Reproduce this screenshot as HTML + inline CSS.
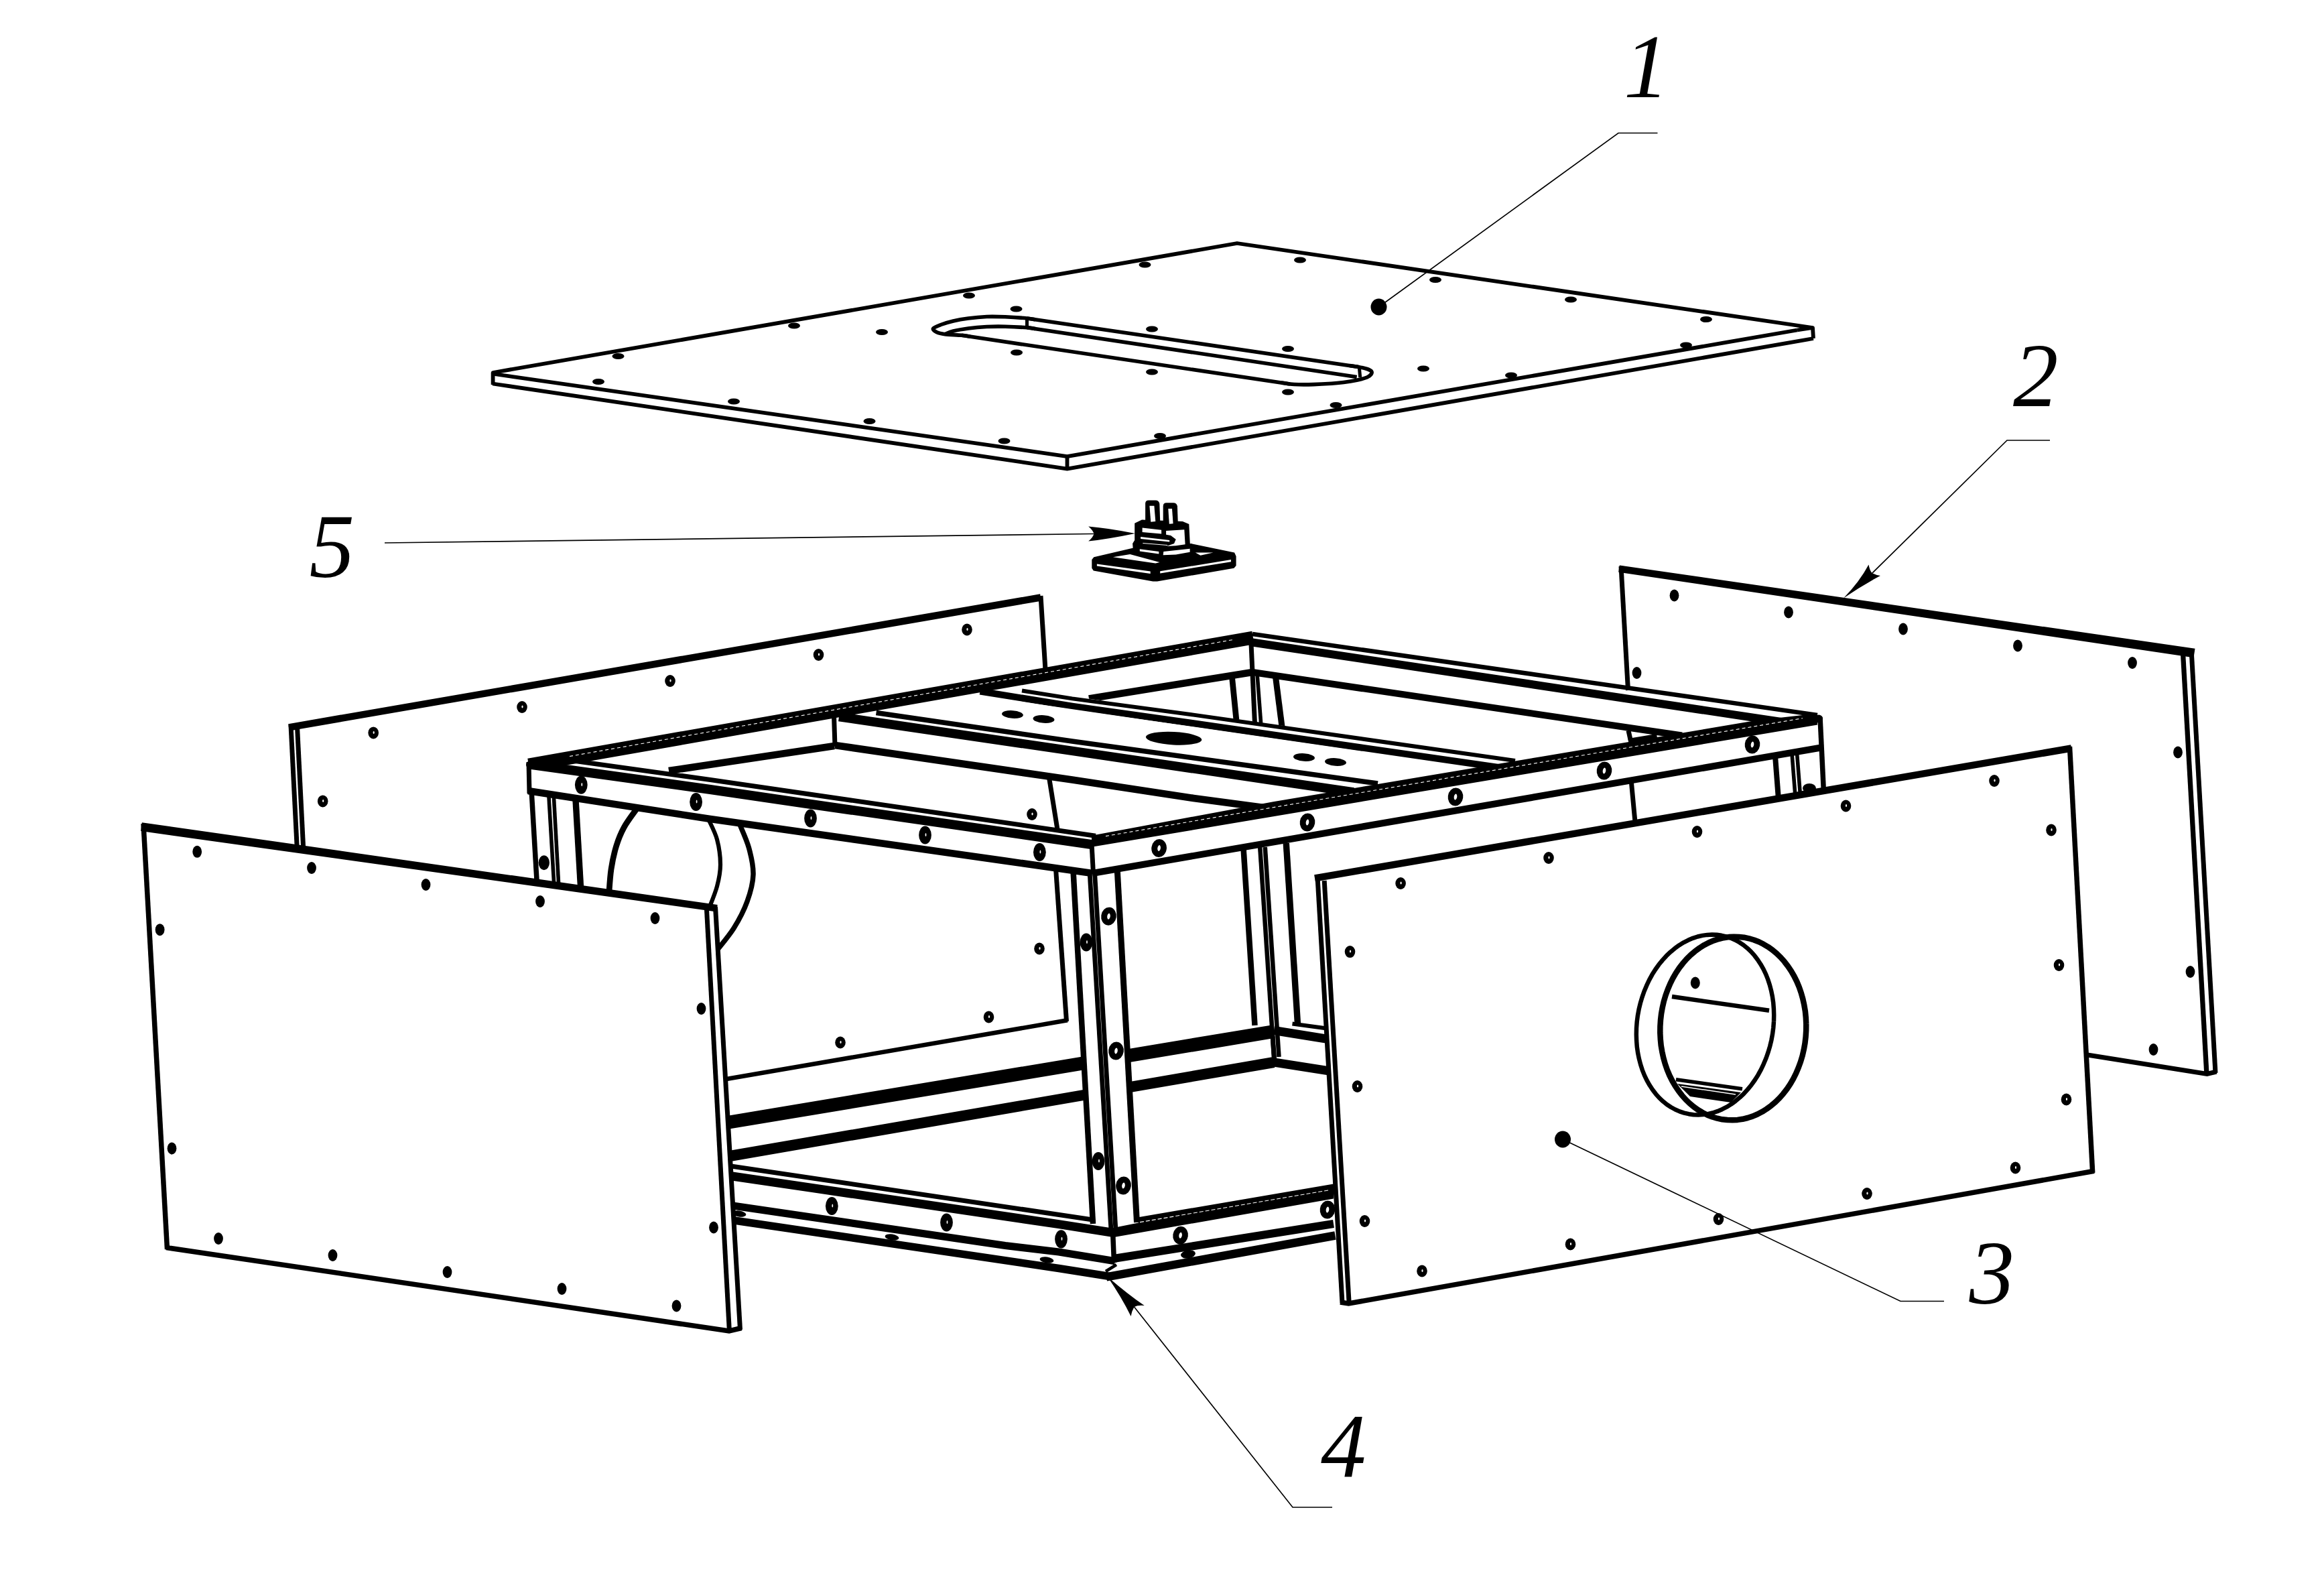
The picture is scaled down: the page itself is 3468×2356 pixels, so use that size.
<!DOCTYPE html>
<html><head><meta charset="utf-8"><title>Exploded view</title>
<style>html,body{margin:0;padding:0;background:#fff}body{width:3468px;height:2356px;overflow:hidden}svg{display:block}text{font-family:"Liberation Serif",serif;font-style:italic;fill:#000}</style>
</head><body>
<svg width="3468" height="2356" viewBox="0 0 3468 2356">
<polygon points="432.0,1085.0 1552.0,892.0 1591.0,1522.5 1084.0,1610.0 455.0,1300.0" fill="#fff" stroke="none" stroke-width="0" stroke-linejoin="miter"/>
<polyline points="431.0,1085.3 1553.0,891.5" fill="none" stroke="#000" stroke-width="10.5" stroke-linecap="butt" stroke-linejoin="miter"/>
<polyline points="434.0,1082.0 444.5,1290.0" fill="none" stroke="#000" stroke-width="7" stroke-linecap="butt" stroke-linejoin="miter"/>
<polyline points="443.5,1084.0 454.0,1292.0" fill="none" stroke="#000" stroke-width="7" stroke-linecap="butt" stroke-linejoin="miter"/>
<polyline points="1553.0,889.0 1560.0,1000.0" fill="none" stroke="#000" stroke-width="7" stroke-linecap="butt" stroke-linejoin="miter"/>
<ellipse cx="557.2" cy="1093.4" rx="7.8" ry="9" fill="#000" stroke="none" stroke-width="0"/>
<ellipse cx="557.7" cy="1092.9" rx="1.1" ry="2.0" fill="#fff" stroke="none" stroke-width="0"/>
<ellipse cx="779" cy="1055" rx="7.8" ry="9" fill="#000" stroke="none" stroke-width="0"/>
<ellipse cx="779.5" cy="1054.5" rx="1.1" ry="2.0" fill="#fff" stroke="none" stroke-width="0"/>
<ellipse cx="1000" cy="1016" rx="7.8" ry="9" fill="#000" stroke="none" stroke-width="0"/>
<ellipse cx="1000.5" cy="1015.5" rx="1.1" ry="2.0" fill="#fff" stroke="none" stroke-width="0"/>
<ellipse cx="1221.5" cy="977" rx="7.8" ry="9" fill="#000" stroke="none" stroke-width="0"/>
<ellipse cx="1222.0" cy="976.5" rx="1.1" ry="2.0" fill="#fff" stroke="none" stroke-width="0"/>
<ellipse cx="1443" cy="939.5" rx="7.8" ry="9" fill="#000" stroke="none" stroke-width="0"/>
<ellipse cx="1443.5" cy="939.0" rx="1.1" ry="2.0" fill="#fff" stroke="none" stroke-width="0"/>
<ellipse cx="481.7" cy="1195.4" rx="7.8" ry="9" fill="#000" stroke="none" stroke-width="0"/>
<ellipse cx="482.2" cy="1194.9" rx="1.1" ry="2.0" fill="#fff" stroke="none" stroke-width="0"/>
<polygon points="2418.5,849.0 3271.0,972.5 3306.0,1600.0 3292.0,1603.0 2441.0,1470.0" fill="#fff" stroke="none" stroke-width="0" stroke-linejoin="miter"/>
<polygon points="2415.2,853.8 3273.5,981.2 3275.5,967.8 2416.8,843.4" fill="#000" stroke="none" stroke-width="0" stroke-linejoin="miter"/>
<polyline points="2419.0,845.0 2429.5,1030.0" fill="none" stroke="#000" stroke-width="7" stroke-linecap="butt" stroke-linejoin="miter"/>
<polyline points="3257.6,976.0 3293.0,1604.0" fill="none" stroke="#000" stroke-width="7.3" stroke-linecap="butt" stroke-linejoin="miter"/>
<polyline points="3270.3,974.0 3306.0,1601.0" fill="none" stroke="#000" stroke-width="7" stroke-linecap="butt" stroke-linejoin="miter"/>
<polyline points="3115.0,1574.0 3293.5,1602.5 3307.5,1599.0" fill="none" stroke="#000" stroke-width="7" stroke-linecap="butt" stroke-linejoin="miter"/>
<ellipse cx="2498.5" cy="888.5" rx="6.9" ry="9" fill="#000" stroke="none" stroke-width="0"/>
<ellipse cx="2669" cy="913.5" rx="6.9" ry="9" fill="#000" stroke="none" stroke-width="0"/>
<ellipse cx="2840" cy="938.5" rx="6.9" ry="9" fill="#000" stroke="none" stroke-width="0"/>
<ellipse cx="3011" cy="963.5" rx="6.9" ry="9" fill="#000" stroke="none" stroke-width="0"/>
<ellipse cx="3182" cy="989" rx="6.9" ry="9" fill="#000" stroke="none" stroke-width="0"/>
<ellipse cx="2442.5" cy="1004" rx="6.9" ry="9" fill="#000" stroke="none" stroke-width="0"/>
<ellipse cx="3250" cy="1122.5" rx="6.9" ry="9" fill="#000" stroke="none" stroke-width="0"/>
<ellipse cx="3268.5" cy="1450" rx="6.9" ry="9" fill="#000" stroke="none" stroke-width="0"/>
<ellipse cx="3213.5" cy="1566" rx="6.9" ry="9" fill="#000" stroke="none" stroke-width="0"/>
<polyline points="2430.0,1090.0 2433.5,1106.0" fill="none" stroke="#000" stroke-width="7" stroke-linecap="butt" stroke-linejoin="miter"/>
<polyline points="2434.0,1163.0 2440.5,1232.0" fill="none" stroke="#000" stroke-width="7" stroke-linecap="butt" stroke-linejoin="miter"/>
<polyline points="1575.5,1296.0 1591.5,1524.0" fill="none" stroke="#000" stroke-width="7" stroke-linecap="butt" stroke-linejoin="miter"/>
<polyline points="1593.0,1522.3 1084.0,1610.0" fill="none" stroke="#000" stroke-width="6.5" stroke-linecap="butt" stroke-linejoin="miter"/>
<polyline points="1565.5,1160.0 1578.0,1238.0" fill="none" stroke="#000" stroke-width="7" stroke-linecap="butt" stroke-linejoin="miter"/>
<ellipse cx="1540" cy="1215" rx="7.8" ry="9" fill="#000" stroke="none" stroke-width="0"/>
<ellipse cx="1540.5" cy="1214.5" rx="1.1" ry="2.0" fill="#fff" stroke="none" stroke-width="0"/>
<ellipse cx="1551" cy="1415.5" rx="7.8" ry="9" fill="#000" stroke="none" stroke-width="0"/>
<ellipse cx="1551.5" cy="1415.0" rx="1.1" ry="2.0" fill="#fff" stroke="none" stroke-width="0"/>
<ellipse cx="1475.5" cy="1517.5" rx="7.8" ry="9" fill="#000" stroke="none" stroke-width="0"/>
<ellipse cx="1476.0" cy="1517.0" rx="1.1" ry="2.0" fill="#fff" stroke="none" stroke-width="0"/>
<ellipse cx="1254" cy="1555.5" rx="7.8" ry="9" fill="#000" stroke="none" stroke-width="0"/>
<ellipse cx="1254.5" cy="1555.0" rx="1.1" ry="2.0" fill="#fff" stroke="none" stroke-width="0"/>
<polyline points="1085.0,1675.0 1901.0,1539.0" fill="none" stroke="#000" stroke-width="20" stroke-linecap="butt" stroke-linejoin="miter"/>
<polyline points="1089.0,1725.0 1901.0,1585.0" fill="none" stroke="#000" stroke-width="16" stroke-linecap="butt" stroke-linejoin="miter"/>
<polyline points="1928.5,1527.5 1980.0,1534.5" fill="none" stroke="#000" stroke-width="6" stroke-linecap="butt" stroke-linejoin="miter"/>
<polyline points="1901.0,1537.5 1982.0,1550.5" fill="none" stroke="#000" stroke-width="13" stroke-linecap="butt" stroke-linejoin="miter"/>
<polyline points="1901.0,1585.0 1984.0,1598.0" fill="none" stroke="#000" stroke-width="13" stroke-linecap="butt" stroke-linejoin="miter"/>
<polyline points="1899.0,1545.0 1902.0,1586.0" fill="none" stroke="#000" stroke-width="7" stroke-linecap="butt" stroke-linejoin="miter"/>
<polyline points="1855.7,1268.0 1872.5,1530.0" fill="none" stroke="#000" stroke-width="8.5" stroke-linecap="butt" stroke-linejoin="miter"/>
<polyline points="1880.2,1264.0 1901.0,1577.0" fill="none" stroke="#000" stroke-width="6.5" stroke-linecap="butt" stroke-linejoin="miter"/>
<polyline points="1887.8,1264.0 1908.5,1577.0" fill="none" stroke="#000" stroke-width="6.5" stroke-linecap="butt" stroke-linejoin="miter"/>
<polyline points="1919.3,1258.0 1936.5,1528.0" fill="none" stroke="#000" stroke-width="9.4" stroke-linecap="butt" stroke-linejoin="miter"/>
<polyline points="998.0,1150.0 1245.0,1113.0" fill="none" stroke="#000" stroke-width="10.6" stroke-linecap="butt" stroke-linejoin="miter"/>
<polyline points="1625.0,1042.4 1869.0,1003.0" fill="none" stroke="#000" stroke-width="10.6" stroke-linecap="butt" stroke-linejoin="miter"/>
<polyline points="1869.0,946.0 2712.0,1067.0" fill="none" stroke="#000" stroke-width="6.5" stroke-linecap="butt" stroke-linejoin="miter"/>
<polyline points="1869.0,958.5 2668.0,1078.5" fill="none" stroke="#000" stroke-width="12" stroke-linecap="butt" stroke-linejoin="miter"/>
<polyline points="1869.0,1003.0 2510.0,1097.5" fill="none" stroke="#000" stroke-width="10" stroke-linecap="butt" stroke-linejoin="miter"/>
<polyline points="1867.0,960.0 1872.5,1080.0" fill="none" stroke="#000" stroke-width="7" stroke-linecap="butt" stroke-linejoin="miter"/>
<polyline points="1838.5,1010.0 1845.5,1080.0" fill="none" stroke="#000" stroke-width="8.7" stroke-linecap="butt" stroke-linejoin="miter"/>
<polyline points="1876.0,1005.0 1882.0,1084.0" fill="none" stroke="#000" stroke-width="5.6" stroke-linecap="butt" stroke-linejoin="miter"/>
<polyline points="1903.5,1010.0 1913.5,1088.0" fill="none" stroke="#000" stroke-width="9" stroke-linecap="butt" stroke-linejoin="miter"/>
<polygon points="1462.0,1020.0 2261.0,1131.0 2243.0,1152.0 1462.0,1038.0" fill="#fff" stroke="none" stroke-width="0" stroke-linejoin="miter"/>
<polyline points="1525.0,1030.5 1600.0,1042.4 1781.0,1066.6 2261.0,1135.0" fill="none" stroke="#000" stroke-width="6" stroke-linecap="butt" stroke-linejoin="miter"/>
<polyline points="1462.5,1031.5 1600.0,1053.7 1781.0,1079.3 2243.0,1146.0" fill="none" stroke="#000" stroke-width="10" stroke-linecap="butt" stroke-linejoin="miter"/>
<polygon points="1462.0,1038.0 2243.0,1152.0 2058.0,1172.0 1300.0,1060.0" fill="#fff" stroke="none" stroke-width="0" stroke-linejoin="miter"/>
<ellipse cx="1511" cy="1066" rx="16" ry="5.8" fill="#000" stroke="none" stroke-width="0" transform="rotate(4 1511 1066)"/>
<ellipse cx="1557.5" cy="1073" rx="16" ry="5.8" fill="#000" stroke="none" stroke-width="0" transform="rotate(4 1557.5 1073)"/>
<ellipse cx="1946" cy="1130" rx="16" ry="5.8" fill="#000" stroke="none" stroke-width="0" transform="rotate(4 1946 1130)"/>
<ellipse cx="1993" cy="1137" rx="16" ry="5.8" fill="#000" stroke="none" stroke-width="0" transform="rotate(4 1993 1137)"/>
<ellipse cx="1751.6" cy="1101.7" rx="41.8" ry="9.7" fill="#000" stroke="none" stroke-width="0" transform="rotate(3 1751.6 1101.7)"/>
<polygon points="1246.0,1062.0 2058.0,1166.0 1881.0,1203.0 1246.0,1112.0" fill="#fff" stroke="none" stroke-width="0" stroke-linejoin="miter"/>
<polyline points="1307.5,1063.5 1600.0,1106.0 1890.0,1146.0 2056.0,1169.0" fill="none" stroke="#000" stroke-width="7.5" stroke-linecap="butt" stroke-linejoin="miter"/>
<polyline points="1252.0,1069.5 1600.0,1120.4 1890.0,1163.0 2020.0,1182.0" fill="none" stroke="#000" stroke-width="13.5" stroke-linecap="butt" stroke-linejoin="miter"/>
<polyline points="1246.0,1112.0 1600.0,1163.5 1781.0,1191.0 1886.0,1205.0" fill="none" stroke="#000" stroke-width="10.8" stroke-linecap="butt" stroke-linejoin="miter"/>
<polyline points="1244.5,1068.0 1246.0,1114.0" fill="none" stroke="#000" stroke-width="7" stroke-linecap="butt" stroke-linejoin="miter"/>
<polyline points="789.0,1141.5 1870.0,951.5" fill="none" stroke="#000" stroke-width="20" stroke-linecap="butt" stroke-linejoin="miter"/>
<polyline points="850,1128.5 1840,954.5" fill="none" stroke="#fff" stroke-width="1.1" stroke-dasharray="5 4"/>
<polyline points="2430.0,1105.0 2472.5,1098.0" fill="none" stroke="#000" stroke-width="6" stroke-linecap="butt" stroke-linejoin="miter"/>
<polyline points="793.0,1178.0 801.5,1322.0" fill="none" stroke="#000" stroke-width="7.5" stroke-linecap="butt" stroke-linejoin="miter"/>
<polyline points="818.7,1184.0 827.0,1324.0" fill="none" stroke="#000" stroke-width="5.6" stroke-linecap="butt" stroke-linejoin="miter"/>
<polyline points="826.2,1185.0 834.0,1326.0" fill="none" stroke="#000" stroke-width="5.6" stroke-linecap="butt" stroke-linejoin="miter"/>
<polyline points="858.8,1190.0 867.0,1332.0" fill="none" stroke="#000" stroke-width="9.4" stroke-linecap="butt" stroke-linejoin="miter"/>
<ellipse cx="811.8" cy="1287.2" rx="8.2" ry="11" fill="#000" stroke="none" stroke-width="0"/>
<path d="M950.0,1207.0 C946.8,1211.6 936.0,1225.6 931.0,1234.8 C926.0,1244.0 922.9,1251.8 919.7,1262.2 C916.5,1272.6 913.9,1284.5 912.0,1297.0 C910.1,1309.5 909.1,1330.3 908.5,1337.0" fill="none" stroke="#000" stroke-width="8.7" stroke-linecap="butt" stroke-linejoin="round"/>
<path d="M1057.0,1222.0 C1059.2,1227.1 1067.0,1241.2 1070.0,1252.5 C1073.0,1263.8 1075.0,1278.3 1075.0,1290.0 C1075.0,1301.7 1073.0,1311.2 1070.0,1322.5 C1067.0,1333.8 1059.2,1352.1 1057.0,1358.0" fill="none" stroke="#000" stroke-width="6.2" stroke-linecap="butt" stroke-linejoin="round"/>
<path d="M1103.0,1228.0 C1105.4,1234.2 1114.0,1252.2 1117.5,1265.0 C1121.0,1277.8 1124.4,1291.7 1124.0,1305.0 C1123.6,1318.3 1119.8,1331.7 1115.0,1345.0 C1110.2,1358.3 1102.7,1372.7 1095.0,1385.0 C1087.3,1397.3 1073.3,1413.3 1069.0,1419.0" fill="none" stroke="#000" stroke-width="7.5" stroke-linecap="butt" stroke-linejoin="round"/>
<polygon points="1600.5,1290.0 1667.0,1285.0 1699.0,1822.0 1662.0,1882.0 1633.5,1832.0" fill="#fff" stroke="none" stroke-width="0" stroke-linejoin="miter"/>
<polyline points="1601.0,1290.0 1631.0,1826.0" fill="none" stroke="#000" stroke-width="8.5" stroke-linecap="butt" stroke-linejoin="miter"/>
<polyline points="1625.5,1292.0 1658.0,1836.0" fill="none" stroke="#000" stroke-width="6.8" stroke-linecap="butt" stroke-linejoin="miter"/>
<polyline points="1633.0,1292.0 1665.0,1836.0" fill="none" stroke="#000" stroke-width="6.8" stroke-linecap="butt" stroke-linejoin="miter"/>
<polyline points="1666.7,1288.0 1696.5,1824.0" fill="none" stroke="#000" stroke-width="9" stroke-linecap="butt" stroke-linejoin="miter"/>
<ellipse cx="1654.5" cy="1367.2" rx="6.8" ry="9.0" fill="#fff" stroke="#000" stroke-width="9" transform="rotate(8 1654.5 1367.2)"/>
<ellipse cx="1665.5" cy="1568" rx="6.8" ry="9.0" fill="#fff" stroke="#000" stroke-width="9" transform="rotate(8 1665.5 1568)"/>
<ellipse cx="1676.5" cy="1769" rx="6.8" ry="9.0" fill="#fff" stroke="#000" stroke-width="9" transform="rotate(8 1676.5 1769)"/>
<ellipse cx="1621" cy="1406" rx="9.4" ry="13.6" fill="#000" stroke="none" stroke-width="0"/>
<ellipse cx="1622" cy="1405.5" rx="0.9" ry="2.6" fill="#fff" stroke="none" stroke-width="0"/>
<ellipse cx="1639" cy="1732.5" rx="9.4" ry="13.6" fill="#000" stroke="none" stroke-width="0"/>
<ellipse cx="1640" cy="1732.0" rx="0.9" ry="2.6" fill="#fff" stroke="none" stroke-width="0"/>
<polygon points="788.0,1140.0 1060.0,1178.0 1200.0,1198.5 1632.0,1260.5 1630.0,1303.0 1500.0,1284.5 1060.0,1222.0 788.0,1180.0" fill="#fff" stroke="none" stroke-width="0" stroke-linejoin="miter"/>
<polyline points="790.0,1140.5 1060.0,1178.0 1200.0,1198.5 1632.0,1260.5" fill="none" stroke="#000" stroke-width="14" stroke-linecap="butt" stroke-linejoin="miter"/>
<polyline points="835.0,1132.3 1060.0,1163.5 1400.0,1213.0 1635.0,1247.2" fill="none" stroke="#000" stroke-width="7" stroke-linecap="butt" stroke-linejoin="miter"/>
<polyline points="788.0,1180.0 1060.0,1222.0 1500.0,1284.5 1630.0,1303.0" fill="none" stroke="#000" stroke-width="10.5" stroke-linecap="butt" stroke-linejoin="miter"/>
<polyline points="789.0,1137.0 790.0,1184.0" fill="none" stroke="#000" stroke-width="7" stroke-linecap="butt" stroke-linejoin="round"/>
<ellipse cx="790.5" cy="1141" rx="5.5" ry="5.5" fill="#000" stroke="none" stroke-width="0"/>
<ellipse cx="867.3" cy="1171.1" rx="9.4" ry="13.6" fill="#000" stroke="none" stroke-width="0"/>
<ellipse cx="868.3" cy="1170.6" rx="0.9" ry="2.6" fill="#fff" stroke="none" stroke-width="0"/>
<ellipse cx="1038.6" cy="1196.5" rx="9.4" ry="13.6" fill="#000" stroke="none" stroke-width="0"/>
<ellipse cx="1039.6" cy="1196.0" rx="0.9" ry="2.6" fill="#fff" stroke="none" stroke-width="0"/>
<ellipse cx="1209.5" cy="1221" rx="9.4" ry="13.6" fill="#000" stroke="none" stroke-width="0"/>
<ellipse cx="1210.5" cy="1220.5" rx="0.9" ry="2.6" fill="#fff" stroke="none" stroke-width="0"/>
<ellipse cx="1380.5" cy="1246" rx="9.4" ry="13.6" fill="#000" stroke="none" stroke-width="0"/>
<ellipse cx="1381.5" cy="1245.5" rx="0.9" ry="2.6" fill="#fff" stroke="none" stroke-width="0"/>
<ellipse cx="1551.4" cy="1271.5" rx="9.4" ry="13.6" fill="#000" stroke="none" stroke-width="0"/>
<ellipse cx="1552.4" cy="1271.0" rx="0.9" ry="2.6" fill="#fff" stroke="none" stroke-width="0"/>
<polygon points="1631.0,1255.0 2712.0,1073.0 2717.5,1115.5 1630.0,1303.0" fill="#fff" stroke="none" stroke-width="0" stroke-linejoin="miter"/>
<polygon points="1629.0,1246.8 1900.0,1196.2 2300.0,1128.9 2620.0,1075.0 2712.0,1064.5 2712.0,1081.5 2620.0,1097.0 2300.0,1150.9 1900.0,1218.2 1629.0,1263.8" fill="#000" stroke="none" stroke-width="0" stroke-linejoin="miter"/>
<polyline points="1650.0,1247.6 1900.0,1204.7 2690.0,1071.7" fill="none" stroke="#fff" stroke-width="1.1" stroke-dasharray="5 4"/>
<polyline points="1630.0,1303.0 2717.5,1115.5" fill="none" stroke="#000" stroke-width="10" stroke-linecap="butt" stroke-linejoin="miter"/>
<polyline points="1629.0,1258.0 1631.5,1304.0" fill="none" stroke="#000" stroke-width="7" stroke-linecap="butt" stroke-linejoin="miter"/>
<polyline points="2716.0,1070.0 2721.5,1183.0" fill="none" stroke="#000" stroke-width="7.5" stroke-linecap="butt" stroke-linejoin="miter"/>
<ellipse cx="2714" cy="1072.5" rx="6" ry="6" fill="#000" stroke="none" stroke-width="0"/>
<ellipse cx="1729.6" cy="1265.5" rx="6.8" ry="9.0" fill="#fff" stroke="#000" stroke-width="9" transform="rotate(8 1729.6 1265.5)"/>
<ellipse cx="1951" cy="1227" rx="6.8" ry="9.0" fill="#fff" stroke="#000" stroke-width="9" transform="rotate(8 1951 1227)"/>
<ellipse cx="2172" cy="1189" rx="6.8" ry="9.0" fill="#fff" stroke="#000" stroke-width="9" transform="rotate(8 2172 1189)"/>
<ellipse cx="2394" cy="1150" rx="6.8" ry="9.0" fill="#fff" stroke="#000" stroke-width="9" transform="rotate(8 2394 1150)"/>
<ellipse cx="2615" cy="1111" rx="6.8" ry="9.0" fill="#fff" stroke="#000" stroke-width="9" transform="rotate(8 2615 1111)"/>
<polyline points="2649.0,1128.0 2654.0,1193.0" fill="none" stroke="#000" stroke-width="8" stroke-linecap="butt" stroke-linejoin="miter"/>
<polyline points="2674.0,1124.0 2679.0,1188.0" fill="none" stroke="#000" stroke-width="5.6" stroke-linecap="butt" stroke-linejoin="miter"/>
<polyline points="2681.5,1123.0 2686.5,1187.0" fill="none" stroke="#000" stroke-width="5.6" stroke-linecap="butt" stroke-linejoin="miter"/>
<ellipse cx="2700" cy="1176" rx="10" ry="7" fill="#000" stroke="none" stroke-width="0"/>
<polygon points="1091.0,1755.0 1660.5,1839.0 1662.5,1881.0 1653.0,1905.0 1095.6,1821.0" fill="#fff" stroke="none" stroke-width="0" stroke-linejoin="miter"/>
<polygon points="1660.5,1839.0 1990.0,1788.5 1992.5,1843.5 1653.0,1905.0 1662.5,1881.0" fill="#fff" stroke="none" stroke-width="0" stroke-linejoin="miter"/>
<polyline points="1091.0,1740.0 1629.0,1819.7" fill="none" stroke="#000" stroke-width="7" stroke-linecap="butt" stroke-linejoin="miter"/>
<polyline points="1091.0,1754.7 1580.0,1826.6 1662.0,1839.5" fill="none" stroke="#000" stroke-width="13" stroke-linecap="butt" stroke-linejoin="miter"/>
<polyline points="1093.7,1799.0 1500.0,1858.5 1580.0,1868.0 1664.0,1881.8" fill="none" stroke="#000" stroke-width="11" stroke-linecap="butt" stroke-linejoin="miter"/>
<polyline points="1095.6,1821.0 1580.0,1892.5 1656.0,1904.5" fill="none" stroke="#000" stroke-width="11.5" stroke-linecap="butt" stroke-linejoin="miter"/>
<ellipse cx="1241.3" cy="1799.5" rx="9.4" ry="13.6" fill="#000" stroke="none" stroke-width="0"/>
<ellipse cx="1242.3" cy="1799.0" rx="0.9" ry="2.6" fill="#fff" stroke="none" stroke-width="0"/>
<ellipse cx="1412.5" cy="1824" rx="9.4" ry="13.6" fill="#000" stroke="none" stroke-width="0"/>
<ellipse cx="1413.5" cy="1823.5" rx="0.9" ry="2.6" fill="#fff" stroke="none" stroke-width="0"/>
<ellipse cx="1583.5" cy="1848.8" rx="9.4" ry="13.6" fill="#000" stroke="none" stroke-width="0"/>
<ellipse cx="1584.5" cy="1848.3" rx="0.9" ry="2.6" fill="#fff" stroke="none" stroke-width="0"/>
<ellipse cx="1103" cy="1811" rx="10.5" ry="4.5" fill="#000" stroke="none" stroke-width="0" transform="rotate(8 1103 1811)"/>
<ellipse cx="1331" cy="1846" rx="10.5" ry="4.5" fill="#000" stroke="none" stroke-width="0" transform="rotate(8 1331 1846)"/>
<ellipse cx="1562" cy="1880" rx="10.5" ry="4.5" fill="#000" stroke="none" stroke-width="0" transform="rotate(8 1562 1880)"/>
<polygon points="1659.0,1832.5 1699.0,1824.5 1700.0,1816.0 1990.0,1766.5 1990.0,1788.5 1659.5,1846.5" fill="#000" stroke="none" stroke-width="0" stroke-linejoin="miter"/>
<polyline points="1701,1823.6 1985,1775.5" fill="none" stroke="#fff" stroke-width="1.1" stroke-dasharray="6 3"/>
<polyline points="1660.0,1878.3 1990.0,1826.0" fill="none" stroke="#000" stroke-width="12" stroke-linecap="butt" stroke-linejoin="miter"/>
<polyline points="1651.0,1905.4 1992.5,1843.5" fill="none" stroke="#000" stroke-width="12.5" stroke-linecap="butt" stroke-linejoin="miter"/>
<polyline points="1650.0,1897.0 1666.0,1887.0" fill="none" stroke="#000" stroke-width="4.5" stroke-linecap="butt" stroke-linejoin="miter"/>
<ellipse cx="1761.6" cy="1843.3" rx="6.8" ry="9.0" fill="#fff" stroke="#000" stroke-width="9" transform="rotate(8 1761.6 1843.3)"/>
<ellipse cx="1981" cy="1805" rx="6.8" ry="9.0" fill="#fff" stroke="#000" stroke-width="9" transform="rotate(8 1981 1805)"/>
<ellipse cx="1773" cy="1871.5" rx="11" ry="6" fill="#000" stroke="none" stroke-width="0" transform="rotate(-9 1773 1871.5)"/>
<polyline points="1660.5,1836.0 1662.5,1884.0" fill="none" stroke="#000" stroke-width="7.5" stroke-linecap="butt" stroke-linejoin="miter"/>
<polygon points="213.0,1232.5 1068.5,1354.0 1105.0,1982.0 1088.0,1987.0 249.0,1862.0" fill="#fff" stroke="none" stroke-width="0" stroke-linejoin="miter"/>
<polygon points="210.1,1240.0 1069.3,1360.4 1070.7,1350.0 211.9,1227.2" fill="#000" stroke="none" stroke-width="0" stroke-linejoin="miter"/>
<polyline points="214.0,1229.0 249.5,1864.0" fill="none" stroke="#000" stroke-width="7.5" stroke-linecap="butt" stroke-linejoin="miter"/>
<polyline points="248.0,1861.5 1088.0,1986.0 1106.5,1981.5" fill="none" stroke="#000" stroke-width="7.5" stroke-linecap="butt" stroke-linejoin="miter"/>
<polyline points="1054.5,1357.0 1088.5,1988.0" fill="none" stroke="#000" stroke-width="7" stroke-linecap="butt" stroke-linejoin="miter"/>
<polyline points="1067.5,1353.0 1104.5,1984.0" fill="none" stroke="#000" stroke-width="7" stroke-linecap="butt" stroke-linejoin="miter"/>
<ellipse cx="294.2" cy="1270.8" rx="6.9" ry="9" fill="#000" stroke="none" stroke-width="0"/>
<ellipse cx="465" cy="1295" rx="6.9" ry="9" fill="#000" stroke="none" stroke-width="0"/>
<ellipse cx="635.5" cy="1320" rx="6.9" ry="9" fill="#000" stroke="none" stroke-width="0"/>
<ellipse cx="806" cy="1345" rx="6.9" ry="9" fill="#000" stroke="none" stroke-width="0"/>
<ellipse cx="977.5" cy="1370" rx="6.9" ry="9" fill="#000" stroke="none" stroke-width="0"/>
<ellipse cx="238.6" cy="1387.2" rx="6.9" ry="9" fill="#000" stroke="none" stroke-width="0"/>
<ellipse cx="256.5" cy="1713.5" rx="6.9" ry="9" fill="#000" stroke="none" stroke-width="0"/>
<ellipse cx="1046.5" cy="1505" rx="6.9" ry="9" fill="#000" stroke="none" stroke-width="0"/>
<ellipse cx="1065" cy="1831.5" rx="6.9" ry="9" fill="#000" stroke="none" stroke-width="0"/>
<ellipse cx="326" cy="1848" rx="6.9" ry="9" fill="#000" stroke="none" stroke-width="0"/>
<ellipse cx="496.5" cy="1873" rx="6.9" ry="9" fill="#000" stroke="none" stroke-width="0"/>
<ellipse cx="667.5" cy="1898" rx="6.9" ry="9" fill="#000" stroke="none" stroke-width="0"/>
<ellipse cx="838.5" cy="1923" rx="6.9" ry="9" fill="#000" stroke="none" stroke-width="0"/>
<ellipse cx="1009.5" cy="1948.5" rx="6.9" ry="9" fill="#000" stroke="none" stroke-width="0"/>
<polygon points="1963.7,1310.0 3088.5,1117.5 3122.5,1747.5 2012.0,1944.5 2002.5,1943.0" fill="#fff" stroke="none" stroke-width="0" stroke-linejoin="miter"/>
<polyline points="1962.0,1310.4 3091.0,1116.5" fill="none" stroke="#000" stroke-width="10.5" stroke-linecap="butt" stroke-linejoin="miter"/>
<polyline points="1966.0,1308.0 2003.0,1944.0" fill="none" stroke="#000" stroke-width="7" stroke-linecap="butt" stroke-linejoin="miter"/>
<polyline points="1976.2,1314.0 2013.2,1945.0" fill="none" stroke="#000" stroke-width="7" stroke-linecap="butt" stroke-linejoin="miter"/>
<polyline points="3088.5,1114.0 3122.7,1750.0" fill="none" stroke="#000" stroke-width="7.5" stroke-linecap="butt" stroke-linejoin="miter"/>
<polyline points="2000.0,1943.0 2012.5,1945.0 3125.0,1747.3" fill="none" stroke="#000" stroke-width="7.5" stroke-linecap="butt" stroke-linejoin="miter"/>
<ellipse cx="2090.1" cy="1318" rx="7.8" ry="9" fill="#000" stroke="none" stroke-width="0"/>
<ellipse cx="2090.6" cy="1317.5" rx="1.1" ry="2.0" fill="#fff" stroke="none" stroke-width="0"/>
<ellipse cx="2311" cy="1280" rx="7.8" ry="9" fill="#000" stroke="none" stroke-width="0"/>
<ellipse cx="2311.5" cy="1279.5" rx="1.1" ry="2.0" fill="#fff" stroke="none" stroke-width="0"/>
<ellipse cx="2532.5" cy="1241" rx="7.8" ry="9" fill="#000" stroke="none" stroke-width="0"/>
<ellipse cx="2533.0" cy="1240.5" rx="1.1" ry="2.0" fill="#fff" stroke="none" stroke-width="0"/>
<ellipse cx="2754.5" cy="1202.5" rx="7.8" ry="9" fill="#000" stroke="none" stroke-width="0"/>
<ellipse cx="2755.0" cy="1202.0" rx="1.1" ry="2.0" fill="#fff" stroke="none" stroke-width="0"/>
<ellipse cx="2976" cy="1165" rx="7.8" ry="9" fill="#000" stroke="none" stroke-width="0"/>
<ellipse cx="2976.5" cy="1164.5" rx="1.1" ry="2.0" fill="#fff" stroke="none" stroke-width="0"/>
<ellipse cx="2014.5" cy="1420.1" rx="7.8" ry="9" fill="#000" stroke="none" stroke-width="0"/>
<ellipse cx="2015.0" cy="1419.6" rx="1.1" ry="2.0" fill="#fff" stroke="none" stroke-width="0"/>
<ellipse cx="2025.5" cy="1621" rx="7.8" ry="9" fill="#000" stroke="none" stroke-width="0"/>
<ellipse cx="2026.0" cy="1620.5" rx="1.1" ry="2.0" fill="#fff" stroke="none" stroke-width="0"/>
<ellipse cx="2036.5" cy="1822" rx="7.8" ry="9" fill="#000" stroke="none" stroke-width="0"/>
<ellipse cx="2037.0" cy="1821.5" rx="1.1" ry="2.0" fill="#fff" stroke="none" stroke-width="0"/>
<ellipse cx="3061" cy="1238.5" rx="7.8" ry="9" fill="#000" stroke="none" stroke-width="0"/>
<ellipse cx="3061.5" cy="1238.0" rx="1.1" ry="2.0" fill="#fff" stroke="none" stroke-width="0"/>
<ellipse cx="3072.5" cy="1440" rx="7.8" ry="9" fill="#000" stroke="none" stroke-width="0"/>
<ellipse cx="3073.0" cy="1439.5" rx="1.1" ry="2.0" fill="#fff" stroke="none" stroke-width="0"/>
<ellipse cx="3083.5" cy="1640.5" rx="7.8" ry="9" fill="#000" stroke="none" stroke-width="0"/>
<ellipse cx="3084.0" cy="1640.0" rx="1.1" ry="2.0" fill="#fff" stroke="none" stroke-width="0"/>
<ellipse cx="2122" cy="1896.5" rx="7.8" ry="9" fill="#000" stroke="none" stroke-width="0"/>
<ellipse cx="2122.5" cy="1896.0" rx="1.1" ry="2.0" fill="#fff" stroke="none" stroke-width="0"/>
<ellipse cx="2343.5" cy="1856.5" rx="7.8" ry="9" fill="#000" stroke="none" stroke-width="0"/>
<ellipse cx="2344.0" cy="1856.0" rx="1.1" ry="2.0" fill="#fff" stroke="none" stroke-width="0"/>
<ellipse cx="2564.5" cy="1819" rx="7.8" ry="9" fill="#000" stroke="none" stroke-width="0"/>
<ellipse cx="2565.0" cy="1818.5" rx="1.1" ry="2.0" fill="#fff" stroke="none" stroke-width="0"/>
<ellipse cx="2786" cy="1781" rx="7.8" ry="9" fill="#000" stroke="none" stroke-width="0"/>
<ellipse cx="2786.5" cy="1780.5" rx="1.1" ry="2.0" fill="#fff" stroke="none" stroke-width="0"/>
<ellipse cx="3007.5" cy="1742.5" rx="7.8" ry="9" fill="#000" stroke="none" stroke-width="0"/>
<ellipse cx="3008.0" cy="1742.0" rx="1.1" ry="2.0" fill="#fff" stroke="none" stroke-width="0"/>
<polyline points="2647.0,1523.9 2646.3,1533.3 2645.1,1542.6 2643.4,1551.9 2641.2,1561.1 2638.5,1570.2 2635.4,1579.0 2631.8,1587.6 2627.9,1595.9 2623.5,1603.9 2618.7,1611.5 2613.6,1618.7 2608.1,1625.4 2602.3,1631.8 2596.2,1637.6 2589.9,1642.8 2583.4,1647.6 2576.7,1651.7 2569.8,1655.2 2562.8,1658.2 2555.7,1660.5 2548.5,1662.1 2541.4,1663.1 2534.2,1663.5 2527.1,1663.2 2520.1,1662.2 2513.2,1660.6 2506.4,1658.4 2499.9,1655.5 2493.5,1652.0 2487.4,1648.0 2481.6,1643.3 2476.1,1638.1 2470.9,1632.3 2466.1,1626.0 2461.7,1619.3 2457.6,1612.1 2454.0,1604.6 2450.8,1596.6 2448.1,1588.3 2445.9,1579.8 2444.1,1571.0 2442.8,1562.0 2442.1,1552.8 2441.8,1543.5 2442.0,1534.1 2442.7,1524.7 2443.9,1515.4 2445.6,1506.1 2447.8,1496.9 2450.5,1487.8 2453.6,1479.0 2457.2,1470.4 2461.1,1462.1 2465.5,1454.1 2470.3,1446.5 2475.4,1439.3 2480.9,1432.6 2486.7,1426.2 2492.8,1420.4 2499.1,1415.2 2505.6,1410.4 2512.3,1406.3 2519.2,1402.8 2526.2,1399.8 2533.3,1397.5 2540.5,1395.9 2547.6,1394.9 2554.8,1394.5 2561.9,1394.8 2568.9,1395.8 2575.8,1397.4 2582.6,1399.6 2589.1,1402.5 2595.5,1406.0 2601.6,1410.0 2607.4,1414.7 2612.9,1419.9 2618.1,1425.7 2622.9,1432.0 2627.3,1438.7 2631.4,1445.9 2635.0,1453.4 2638.2,1461.4 2640.9,1469.7 2643.1,1478.2 2644.9,1487.0 2646.2,1496.0 2646.9,1505.2 2647.2,1514.5 2647.0,1523.9" fill="none" stroke="#000" stroke-width="6.5" stroke-linecap="butt" stroke-linejoin="round"/>
<polyline points="2695.3,1528.0 2695.2,1537.5 2694.6,1547.0 2693.5,1556.5 2691.8,1565.9 2689.7,1575.1 2687.0,1584.1 2683.8,1592.9 2680.2,1601.4 2676.1,1609.6 2671.6,1617.4 2666.6,1624.8 2661.3,1631.7 2655.6,1638.2 2649.5,1644.2 2643.2,1649.6 2636.5,1654.5 2629.7,1658.8 2622.6,1662.5 2615.3,1665.6 2607.9,1668.0 2600.4,1669.8 2592.8,1670.9 2585.2,1671.3 2577.6,1671.1 2570.1,1670.3 2562.6,1668.7 2555.2,1666.5 2548.0,1663.7 2541.0,1660.2 2534.2,1656.2 2527.6,1651.5 2521.3,1646.2 2515.4,1640.5 2509.8,1634.2 2504.6,1627.4 2499.7,1620.1 2495.3,1612.5 2491.3,1604.5 2487.8,1596.1 2484.8,1587.4 2482.3,1578.5 2480.3,1569.3 2478.7,1560.0 2477.8,1550.6 2477.3,1541.0 2477.4,1531.5 2478.0,1522.0 2479.1,1512.5 2480.8,1503.1 2482.9,1493.9 2485.6,1484.9 2488.8,1476.1 2492.4,1467.6 2496.5,1459.4 2501.0,1451.6 2506.0,1444.2 2511.3,1437.3 2517.0,1430.8 2523.1,1424.8 2529.4,1419.4 2536.1,1414.5 2542.9,1410.2 2550.0,1406.5 2557.3,1403.4 2564.7,1401.0 2572.2,1399.2 2579.8,1398.1 2587.4,1397.7 2595.0,1397.9 2602.5,1398.7 2610.0,1400.3 2617.4,1402.5 2624.6,1405.3 2631.6,1408.8 2638.4,1412.8 2645.0,1417.5 2651.3,1422.8 2657.2,1428.5 2662.8,1434.8 2668.0,1441.6 2672.9,1448.9 2677.3,1456.5 2681.3,1464.5 2684.8,1472.9 2687.8,1481.6 2690.3,1490.5 2692.3,1499.7 2693.9,1509.0 2694.8,1518.4 2695.3,1528.0" fill="none" stroke="#000" stroke-width="8.5" stroke-linecap="butt" stroke-linejoin="round"/>
<polyline points="2495.0,1487.0 2640.0,1507.7" fill="none" stroke="#000" stroke-width="6.5" stroke-linecap="butt" stroke-linejoin="miter"/>
<polyline points="2501.0,1610.8 2600.0,1624.7" fill="none" stroke="#000" stroke-width="5.5" stroke-linecap="butt" stroke-linejoin="miter"/>
<polygon points="2503.0,1617.0 2598.0,1630.0 2583.0,1645.0 2522.0,1636.0" fill="#000" stroke="none" stroke-width="0" stroke-linejoin="miter"/>
<polyline points="2509.0,1621.0 2590.0,1633.0" fill="none" stroke="#fff" stroke-width="1.5" stroke-linecap="butt" stroke-linejoin="miter"/>
<ellipse cx="2529.8" cy="1466.5" rx="7" ry="9" fill="#000" stroke="none" stroke-width="0"/>
<polyline points="735.6,574.0 735.6,556.0 1846.0,363.0 2705.0,489.0 2706.0,505.0" fill="none" stroke="#000" stroke-width="5.8" stroke-linecap="butt" stroke-linejoin="round"/>
<polyline points="737.0,558.0 1592.5,681.0 2682.0,492.5" fill="none" stroke="#000" stroke-width="5.8" stroke-linecap="butt" stroke-linejoin="miter"/>
<polyline points="735.0,572.5 1592.5,699.5 2706.0,505.0" fill="none" stroke="#000" stroke-width="5.8" stroke-linecap="butt" stroke-linejoin="miter"/>
<polyline points="1592.5,679.0 1592.5,702.0" fill="none" stroke="#000" stroke-width="5.8" stroke-linecap="butt" stroke-linejoin="miter"/>
<polyline points="2682.0,492.5 2705.0,489.0" fill="none" stroke="#000" stroke-width="5.8" stroke-linecap="butt" stroke-linejoin="miter"/>
<polyline points="1532.5,475.0 2027.0,547.4" fill="none" stroke="#000" stroke-width="5.6" stroke-linecap="butt" stroke-linejoin="miter"/>
<polyline points="1435.0,500.3 1925.0,573.0" fill="none" stroke="#000" stroke-width="5.6" stroke-linecap="butt" stroke-linejoin="miter"/>
<polyline points="1532.5,488.8 2024.7,562.4" fill="none" stroke="#000" stroke-width="5.6" stroke-linecap="butt" stroke-linejoin="miter"/>
<path d="M1545.0,476.8 C1542.9,476.5 1540.0,475.7 1532.5,475.0 C1525.0,474.3 1510.0,473.2 1500.0,472.8 C1490.0,472.4 1481.7,472.1 1472.5,472.5 C1463.3,472.9 1453.3,473.9 1445.0,475.0 C1436.7,476.1 1429.3,477.4 1422.5,479.0 C1415.7,480.6 1409.0,482.6 1404.0,484.5 C1399.0,486.4 1393.5,488.4 1392.5,490.3 C1391.5,492.2 1395.1,494.4 1398.0,495.8 C1400.9,497.2 1403.8,497.9 1410.0,498.7 C1416.2,499.4 1428.7,499.7 1435.0,500.3 C1441.3,500.9 1445.8,501.9 1448.0,502.2" fill="none" stroke="#000" stroke-width="5.6" stroke-linecap="butt" stroke-linejoin="round"/>
<path d="M1545.0,490.6 C1542.9,490.3 1540.0,489.4 1532.5,488.8 C1525.0,488.2 1510.0,487.4 1500.0,487.2 C1490.0,487.0 1481.7,487.0 1472.5,487.5 C1463.3,488.0 1453.3,488.9 1445.0,490.0 C1436.7,491.1 1428.3,492.6 1422.5,494.0 C1416.7,495.4 1412.1,497.9 1410.0,498.7" fill="none" stroke="#000" stroke-width="5.6" stroke-linecap="butt" stroke-linejoin="round"/>
<path d="M2014.0,545.5 C2016.2,545.8 2022.7,546.6 2027.0,547.4 C2031.3,548.2 2036.8,549.4 2040.0,550.5 C2043.2,551.6 2045.5,552.7 2046.5,554.0 C2047.5,555.3 2047.1,557.0 2046.0,558.5 C2044.9,560.0 2043.5,561.5 2040.0,563.0 C2036.5,564.5 2030.5,566.0 2024.7,567.3 C2018.9,568.5 2011.3,569.7 2005.0,570.5 C1998.7,571.3 1994.5,571.8 1987.0,572.3 C1979.5,572.8 1968.2,573.4 1960.0,573.6 C1951.8,573.9 1943.8,573.9 1938.0,573.8 C1932.2,573.7 1929.3,573.5 1925.0,573.0 C1920.7,572.5 1914.2,571.3 1912.0,571.0" fill="none" stroke="#000" stroke-width="5.6" stroke-linecap="butt" stroke-linejoin="round"/>
<polyline points="1532.5,474.0 1532.5,490.0" fill="none" stroke="#000" stroke-width="5" stroke-linecap="butt" stroke-linejoin="miter"/>
<polyline points="2028.4,549.0 2029.7,563.0" fill="none" stroke="#000" stroke-width="5" stroke-linecap="butt" stroke-linejoin="miter"/>
<ellipse cx="922.5" cy="531.5" rx="9" ry="4.6" fill="#000" stroke="none" stroke-width="0"/>
<ellipse cx="1185" cy="486" rx="9" ry="4.6" fill="#000" stroke="none" stroke-width="0"/>
<ellipse cx="1446" cy="441" rx="9" ry="4.6" fill="#000" stroke="none" stroke-width="0"/>
<ellipse cx="1708.5" cy="395" rx="9" ry="4.6" fill="#000" stroke="none" stroke-width="0"/>
<ellipse cx="893" cy="569.5" rx="9" ry="4.6" fill="#000" stroke="none" stroke-width="0"/>
<ellipse cx="1095" cy="599" rx="9" ry="4.6" fill="#000" stroke="none" stroke-width="0"/>
<ellipse cx="1297.5" cy="628.5" rx="9" ry="4.6" fill="#000" stroke="none" stroke-width="0"/>
<ellipse cx="1498.5" cy="658" rx="9" ry="4.6" fill="#000" stroke="none" stroke-width="0"/>
<ellipse cx="1316" cy="495.5" rx="9" ry="4.6" fill="#000" stroke="none" stroke-width="0"/>
<ellipse cx="1516.5" cy="461" rx="9" ry="4.6" fill="#000" stroke="none" stroke-width="0"/>
<ellipse cx="1517" cy="526" rx="9" ry="4.6" fill="#000" stroke="none" stroke-width="0"/>
<ellipse cx="1719" cy="491" rx="9" ry="4.6" fill="#000" stroke="none" stroke-width="0"/>
<ellipse cx="1719" cy="555" rx="9" ry="4.6" fill="#000" stroke="none" stroke-width="0"/>
<ellipse cx="1731" cy="650.5" rx="9" ry="4.6" fill="#000" stroke="none" stroke-width="0"/>
<ellipse cx="1940" cy="388" rx="9" ry="4.6" fill="#000" stroke="none" stroke-width="0"/>
<ellipse cx="2142" cy="417.5" rx="9" ry="4.6" fill="#000" stroke="none" stroke-width="0"/>
<ellipse cx="2344" cy="447" rx="9" ry="4.6" fill="#000" stroke="none" stroke-width="0"/>
<ellipse cx="2546" cy="476.5" rx="9" ry="4.6" fill="#000" stroke="none" stroke-width="0"/>
<ellipse cx="2516" cy="515" rx="9" ry="4.6" fill="#000" stroke="none" stroke-width="0"/>
<ellipse cx="2255" cy="560" rx="9" ry="4.6" fill="#000" stroke="none" stroke-width="0"/>
<ellipse cx="1993.5" cy="604.5" rx="9" ry="4.6" fill="#000" stroke="none" stroke-width="0"/>
<ellipse cx="1922" cy="520.5" rx="9" ry="4.6" fill="#000" stroke="none" stroke-width="0"/>
<ellipse cx="1922" cy="585" rx="9" ry="4.6" fill="#000" stroke="none" stroke-width="0"/>
<ellipse cx="2124" cy="550" rx="9" ry="4.6" fill="#000" stroke="none" stroke-width="0"/>
<polygon points="1632.4,831.3 1691.3,817.4 1777.5,811.1 1842.1,824.4 1844.6,830.1 1844.6,844.0 1841.4,847.8 1726.8,867.4 1720.5,867.4 1631.8,851.6 1629.3,847.8 1629.3,835.1" fill="#000" stroke="none" stroke-width="0" stroke-linejoin="miter"/>
<polygon points="1660.9,831.3 1686.3,826.9 1730.6,838.9 1724.3,840.4" fill="#fff" stroke="none" stroke-width="0" stroke-linejoin="miter"/>
<polygon points="1636.9,841.5 1716.7,852.6 1716.7,856.0 1636.9,844.6" fill="#fff" stroke="none" stroke-width="0" stroke-linejoin="miter"/>
<polygon points="1731.2,852.2 1837.0,835.1 1837.0,838.3 1731.2,855.4" fill="#fff" stroke="none" stroke-width="0" stroke-linejoin="miter"/>
<polygon points="1783.8,824.4 1810.4,824.4 1791.4,828.8" fill="#fff" stroke="none" stroke-width="0" stroke-linejoin="miter"/>
<polygon points="1693.2,780.7 1704.0,775.6 1764.8,778.1 1774.3,781.9 1776.2,818.7 1769.9,828.8 1735.7,831.3 1691.3,826.3 1690.1,811.1 1693.2,806.0" fill="#000" stroke="none" stroke-width="0" stroke-linejoin="miter"/>
<polygon points="1704.6,787.6 1733.1,790.8 1733.1,796.5 1704.6,794.0" fill="#fff" stroke="none" stroke-width="0" stroke-linejoin="miter"/>
<polygon points="1740.1,792.1 1767.3,790.2 1768.6,812.3 1754.7,814.2 1740.7,814.9 1752.1,811.1 1754.7,804.7 1747.1,799.0 1740.1,797.8" fill="#fff" stroke="none" stroke-width="0" stroke-linejoin="miter"/>
<polygon points="1702.1,800.9 1745.2,806.0 1745.2,808.5 1702.1,804.1" fill="#fff" stroke="none" stroke-width="0" stroke-linejoin="miter"/>
<polygon points="1705.3,810.1 1742.0,813.0 1742.0,813.9 1705.3,811.1" fill="#fff" stroke="none" stroke-width="0" stroke-linejoin="miter"/>
<polygon points="1700.8,819.3 1729.3,823.1 1729.3,826.5 1700.8,822.5" fill="#fff" stroke="none" stroke-width="0" stroke-linejoin="miter"/>
<polygon points="1736.3,823.1 1775.6,818.7 1775.6,823.7 1754.7,827.5 1735.7,828.2" fill="#fff" stroke="none" stroke-width="0" stroke-linejoin="miter"/>
<path d="M1709.1,780.7 L1709.1,751.5 Q1709.1,746.5 1714.1,746.5 L1724.3,746.5 Q1729.3,746.5 1730.3,751.5 L1731.3,780.7 Z" fill="#000"/>
<path d="M1735.7,783.2 L1735.7,755.3 Q1735.7,750.3 1740.7,750.3 L1750.9,750.3 Q1755.9,750.3 1756.9,755.3 L1757.9,783.2 Z" fill="#000"/>
<polygon points="1715.4,754.7 1722.4,754.7 1724.3,778.1 1717.3,778.8" fill="#fff" stroke="none" stroke-width="0" stroke-linejoin="miter"/>
<polygon points="1743.3,759.1 1749.0,759.1 1750.6,781.3 1744.8,781.7" fill="#fff" stroke="none" stroke-width="0" stroke-linejoin="miter"/>
<ellipse cx="2057.5" cy="458" rx="12" ry="12.5" fill="#000" stroke="none" stroke-width="0"/>
<polyline points="2057.5,458.0 2415.0,198.5 2473.5,198.5" fill="none" stroke="#000" stroke-width="1.7" stroke-linecap="butt" stroke-linejoin="miter"/>
<polyline points="2793.0,856.0 2995.0,657.0 3059.0,657.0" fill="none" stroke="#000" stroke-width="1.7" stroke-linecap="butt" stroke-linejoin="miter"/>
<path d="M2751,892.5 Q2775,868 2788.5,842.5 Q2790,851 2793.5,855 Q2799,858 2806,859 Q2778,874 2751,892.5Z" fill="#000"/>
<ellipse cx="2332" cy="1700" rx="12" ry="12.5" fill="#000" stroke="none" stroke-width="0"/>
<polyline points="2332.0,1700.0 2836.0,1941.5 2901.0,1941.5" fill="none" stroke="#000" stroke-width="1.7" stroke-linecap="butt" stroke-linejoin="miter"/>
<polyline points="1692.5,1950.0 1929.0,2249.0 1988.0,2249.0" fill="none" stroke="#000" stroke-width="1.7" stroke-linecap="butt" stroke-linejoin="miter"/>
<path d="M1652.7,1905 Q1684,1932 1707.7,1948 Q1698,1947 1692.5,1950 Q1689,1956 1687.6,1964 Q1674,1936 1652.7,1905Z" fill="#000"/>
<polyline points="574.0,810.0 1632.4,796.5" fill="none" stroke="#000" stroke-width="1.7" stroke-linecap="butt" stroke-linejoin="miter"/>
<path d="M1693.9,795.9 Q1655,788 1624.2,785.4 Q1631,791 1632.4,796.5 Q1631,802 1624.2,807.5 Q1655,804 1693.9,795.9Z" fill="#000"/>
<text x="2423" y="145" font-size="135">1</text>
<text x="3004" y="606" font-size="135">2</text>
<text x="2938.5" y="1945" font-size="135">3</text>
<text x="1971" y="2202.5" font-size="135">4</text>
<text x="461.5" y="861" font-size="135">5</text>
</svg>
</body></html>
